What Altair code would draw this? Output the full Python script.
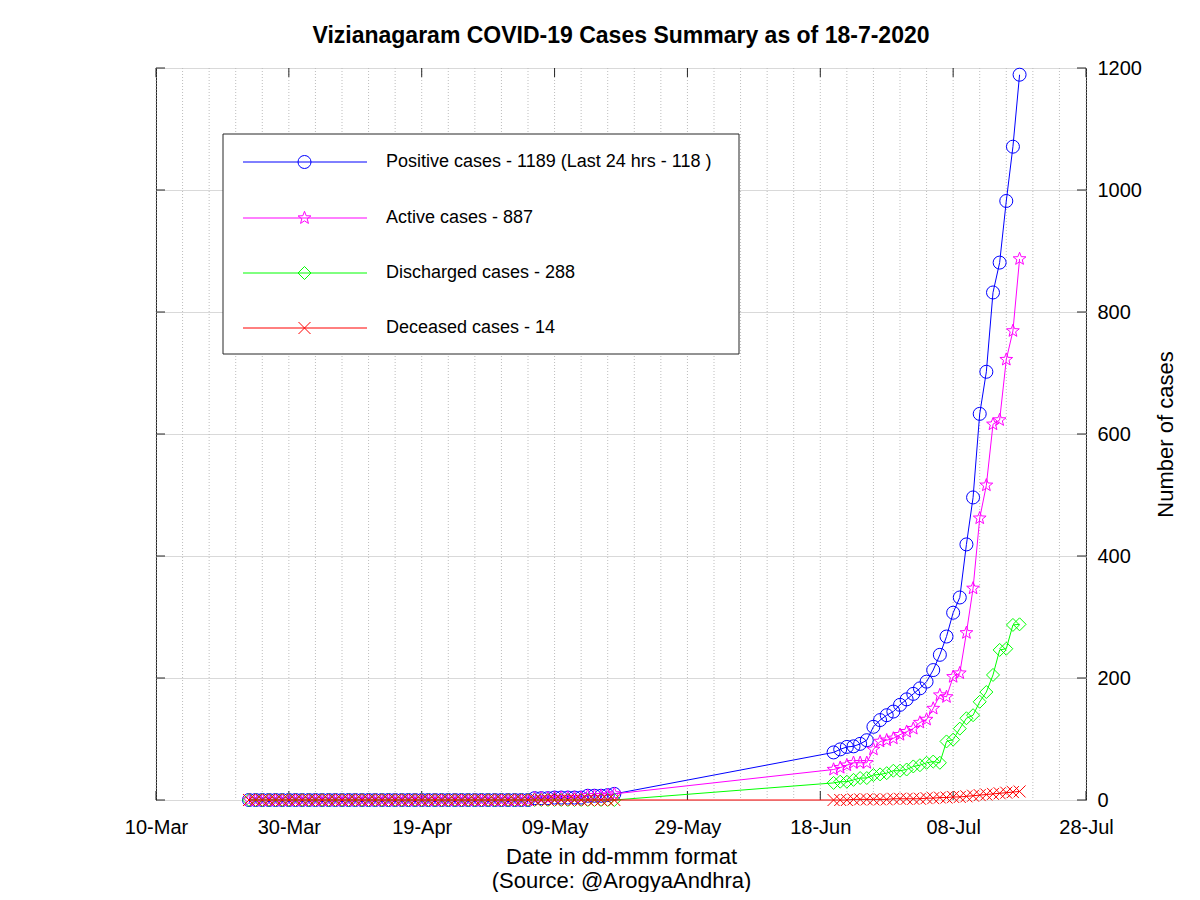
import math
import altair as alt
import pandas as pd

# ---------------- data ----------------
title_text = "Vizianagaram COVID-19 Cases Summary as of 18-7-2020"
series_names = ["Positive", "Active", "Discharged", "Deceased"]
legend_labels = [
    "Positive cases - 1189 (Last 24 hrs - 118 )",
    "Active cases - 887",
    "Discharged cases - 288",
    "Deceased cases - 14",
]
series_colors = ["#0000ff", "#ff00ff", "#00ff00", "#ff0000"]

# daily reports 24-Mar .. 18-May, then 20-Jun .. 18-Jul
early_dates = pd.date_range("2020-03-24", "2020-05-18", freq="D")
late_dates = pd.date_range("2020-06-20", "2020-07-18", freq="D")

early_positive = [0, 0, 0, 0, 0, 0, 0, 0, 0, 0,
                  0, 0, 0, 0, 0, 0, 0, 0, 0, 0,
                  0, 0, 0, 0, 0, 0, 0, 0, 0, 0,
                  0, 0, 0, 0, 0, 0, 0, 0, 0, 0,
                  0, 0, 0, 3, 3, 3, 4, 4, 4, 4,
                  4, 7, 7, 7, 8, 10]
early_active = [0, 0, 0, 0, 0, 0, 0, 0, 0, 0,
                0, 0, 0, 0, 0, 0, 0, 0, 0, 0,
                0, 0, 0, 0, 0, 0, 0, 0, 0, 0,
                0, 0, 0, 0, 0, 0, 0, 0, 0, 0,
                0, 0, 0, 3, 3, 3, 4, 4, 4, 4,
                4, 7, 7, 7, 8, 10]
early_discharged = [0, 0, 0, 0, 0, 0, 0, 0, 0, 0,
                    0, 0, 0, 0, 0, 0, 0, 0, 0, 0,
                    0, 0, 0, 0, 0, 0, 0, 0, 0, 0,
                    0, 0, 0, 0, 0, 0, 0, 0, 0, 0,
                    0, 0, 0, 0, 0, 0, 0, 0, 0, 0,
                    0, 0, 0, 0, 0, 0]
early_deceased = [0, 0, 0, 0, 0, 0, 0, 0, 0, 0,
                  0, 0, 0, 0, 0, 0, 0, 0, 0, 0,
                  0, 0, 0, 0, 0, 0, 0, 0, 0, 0,
                  0, 0, 0, 0, 0, 0, 0, 0, 0, 0,
                  0, 0, 0, 0, 0, 0, 0, 0, 0, 0,
                  0, 0, 0, 0, 0, 0]

late_positive = [78, 83, 87, 88, 92, 98, 120, 131, 139, 145,
                 156, 165, 174, 183, 194, 213, 238, 268, 307, 332,
                 419, 496, 633, 702, 832, 881, 982, 1071, 1189]
late_active = [50, 53, 57, 61, 61, 61, 83, 96, 98, 101,
               107, 112, 117, 127, 132, 150, 172, 169, 202, 208,
               274, 347, 462, 516, 616, 623, 722, 769, 887]
late_discharged = [28, 30, 30, 33, 36, 36, 41, 42, 44, 48,
                   48, 50, 55, 57, 61, 63, 61, 96, 99, 117,
                   134, 139, 161, 177, 205, 246, 248, 287, 288]
late_deceased = [0, 0, 0, 1, 1, 1, 1, 1, 1, 2,
                 2, 2, 2, 2, 3, 3, 4, 4, 5, 5,
                 6, 7, 8, 9, 10, 11, 12, 13, 14]

x_tick_dates = ["2020-03-10", "2020-03-30", "2020-04-19", "2020-05-09",
                "2020-05-29", "2020-06-18", "2020-07-08", "2020-07-28"]
y_tick_values = [0, 200, 400, 600, 800, 1000, 1200]

# ---------------- tables ----------------
def iso(d):
    return pd.Timestamp(d).strftime("%Y-%m-%dT00:00:00")

all_dates = [iso(d) for d in early_dates] + [iso(d) for d in late_dates]
series_values = {
    "Positive": early_positive + late_positive,
    "Active": early_active + late_active,
    "Discharged": early_discharged + late_discharged,
    "Deceased": early_deceased + late_deceased,
}
rows = []
for name in series_names:
    for d, v in zip(all_dates, series_values[name]):
        rows.append({"series": name, "date": d, "value": v})
df = pd.DataFrame(rows)

grid_df = pd.DataFrame({"date": [iso(d) for d in pd.date_range("2020-03-10", "2020-07-28", freq="4D")]})
xtick_df = pd.DataFrame({"date": [iso(d) for d in x_tick_dates]})
ytick_df = pd.DataFrame({"value": y_tick_values})

# ---------------- marker shapes ----------------
def star_path(r_out=1.0, r_in=0.42):
    pts = []
    for i in range(10):
        ang = math.pi / 2 + i * math.pi / 5
        r = r_out if i % 2 == 0 else r_in
        pts.append((r * math.cos(ang), -r * math.sin(ang)))
    return "M" + "L".join(f"{x:.3f},{y:.3f}" for x, y in pts) + "Z"

shapes = ["circle", star_path(), "diamond", "M-1,-1L1,1M-1,1L1,-1"]
sizes = [169, 180, 169, 144]

# ---------------- chart ----------------
W, H = 930, 732
text_color = "#000000"

X = alt.X(
    "date:T",
    scale=alt.Scale(domain=[alt.DateTime(year=2020, month=3, date=10),
                            alt.DateTime(year=2020, month=7, date=28)]),
    axis=alt.Axis(
        values=[alt.DateTime(year=2020, month=int(s[5:7]), date=int(s[8:10])) for s in x_tick_dates],
        format="%d-%b",
        labelFontSize=20,
        labelColor=text_color,
        labelPadding=17,
        labelFlush=False,
        labelOverlap=False,
        tickSize=0,
        domain=False,
        grid=False,
        title=["Date in dd-mmm format", "(Source: @ArogyaAndhra)"],
        titleFontSize=22,
        titleFontWeight="normal",
        titleColor=text_color,
        titleBaseline="alphabetic",
        titleY=63,
        titleLineHeight=24,
    ),
)
Y = alt.Y(
    "value:Q",
    scale=alt.Scale(domain=[0, 1200], nice=False),
    axis=alt.Axis(
        orient="right",
        values=y_tick_values,
        format="d",
        labelFontSize=20,
        labelColor=text_color,
        labelPadding=11,
        labelFlush=False,
        tickSize=0,
        domain=False,
        grid=True,
        gridColor="#d9d9d9",
        gridWidth=1,
        title="Number of cases",
        titleFontSize=22,
        titleFontWeight="normal",
        titleColor=text_color,
        titleAngle=270,
        titleAlign="center",
        titleBaseline="middle",
        titleX=79,
        titleY=H / 2,
    ),
)

layers = []

# dotted vertical grid every 4 days
layers.append(
    alt.Chart(grid_df).mark_rule(color="#bdbdbd", strokeWidth=1, strokeDash=[1, 2])
    .encode(x=X, y=alt.value(0), y2=alt.value(H))
)

# inward major ticks
layers.append(
    alt.Chart(xtick_df).mark_rule(color="#262626", strokeWidth=1)
    .encode(x=X, y=alt.value(H), y2=alt.value(H - 9))
)
layers.append(
    alt.Chart(xtick_df).mark_rule(color="#262626", strokeWidth=1)
    .encode(x=X, y=alt.value(0), y2=alt.value(9))
)
layers.append(
    alt.Chart(ytick_df).mark_rule(color="#262626", strokeWidth=1)
    .encode(y=Y, x=alt.value(W), x2=alt.value(W - 9))
)
layers.append(
    alt.Chart(ytick_df).mark_rule(color="#262626", strokeWidth=1)
    .encode(y=Y, x=alt.value(0), x2=alt.value(9))
)

# series: line + markers
for name, color, shape, size in zip(series_names, series_colors, shapes, sizes):
    base = alt.Chart(df).transform_filter(alt.datum.series == name)
    layers.append(base.mark_line(color=color, stroke=color, strokeWidth=1).encode(x=X, y=Y))
    layers.append(
        base.mark_point(shape=shape, color=color, stroke=color, filled=False, size=size,
                        strokeWidth=1, opacity=1)
        .encode(x=X, y=Y)
    )

# legend box
legend_df = pd.DataFrame({"label": legend_labels, "series": series_names})
layers.append(
    alt.Chart(legend_df).transform_filter(alt.datum.series == "Positive")
    .mark_rect(fill="white", stroke="#262626", strokeWidth=1)
    .encode(x=alt.value(67), x2=alt.value(583), y=alt.value(66), y2=alt.value(286))
)
legend_rows_y = [94, 150, 205, 260]
for name, color, shape, size, yy in zip(series_names, series_colors, shapes, sizes, legend_rows_y):
    lc = alt.Chart(legend_df).transform_filter(alt.datum.series == name)
    layers.append(
        lc.mark_rule(color=color, stroke=color, strokeWidth=1)
        .encode(x=alt.value(87), x2=alt.value(211), y=alt.value(yy))
    )
    layers.append(
        lc.mark_point(shape=shape, color=color, stroke=color, filled=False, size=size,
                      strokeWidth=1, opacity=1)
        .encode(x=alt.value(148.5), y=alt.value(yy))
    )
    layers.append(
        lc.mark_text(align="left", baseline="middle", fontSize=18, color=text_color)
        .encode(x=alt.value(230), y=alt.value(yy), text=alt.Text("label:N"))
    )

chart = (
    alt.layer(*layers)
    .properties(
        width=W,
        height=H,
        title=alt.TitleParams(
            text=title_text,
            fontSize=23,
            fontWeight="bold",
            color=text_color,
            anchor="middle",
            frame="group",
            offset=10,
        ),
        padding={"left": 148, "top": 60, "right": 106, "bottom": 92},
        autosize=alt.AutoSizeParams(type="none"),
    )
    .configure(font="Liberation Sans")
    .configure_view(stroke="#262626", strokeWidth=1)
)

chart.save("out.html", embed_options={"renderer": "svg", "actions": False})
